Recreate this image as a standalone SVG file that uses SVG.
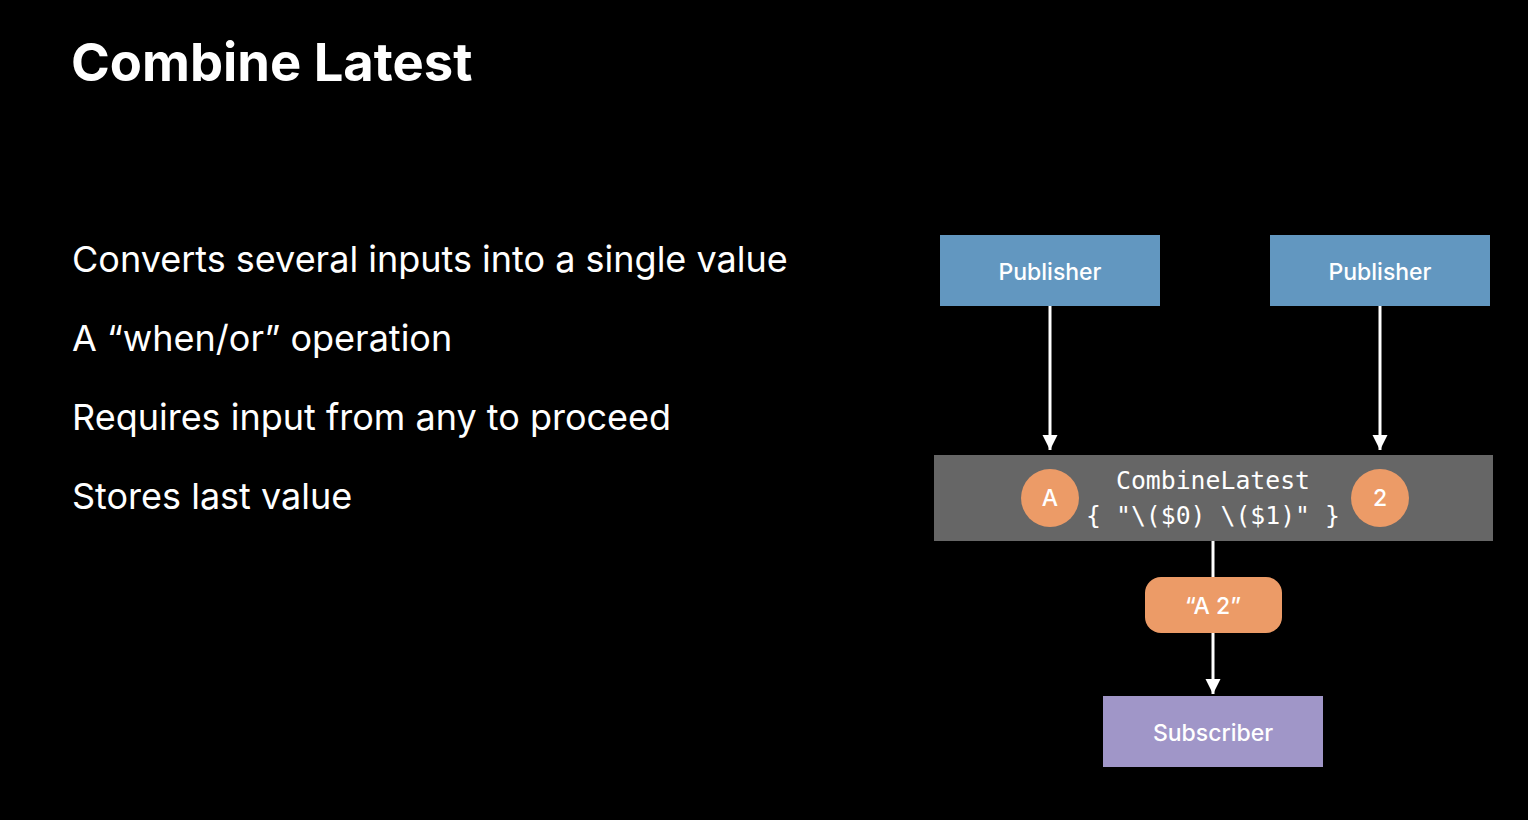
<svg xmlns="http://www.w3.org/2000/svg" width="1528" height="820" viewBox="0 0 1528 820">
<defs>
<style>
.t{font-family:Inter,"Liberation Sans",sans-serif;fill:#fff}
.lbl{font-family:Inter,"Liberation Sans",sans-serif;fill:#fff;font-size:23px;font-weight:500;text-anchor:middle}
.mono{font-family:"DejaVu Sans Mono","Liberation Mono",monospace;fill:#fff;font-size:24.8px;text-anchor:middle}
.conn{stroke:#fff;stroke-width:3;fill:none}
</style>
<marker id="ah" markerWidth="6" markerHeight="6" refX="5" refY="3" orient="auto" markerUnits="strokeWidth">
<path d="M0,0.5 L5,3 L0,5.5 z" fill="#fff"/>
</marker>
</defs>
<rect width="1528" height="820" fill="#000"/>
<text class="t" x="71" y="81" font-size="52.5" font-weight="700">Combine Latest</text>
<g class="t" font-size="36">
<text x="72" y="272">Converts several inputs into a single value</text>
<text x="72" y="351">A “when/or” operation</text>
<text x="72" y="430">Requires input from any to proceed</text>
<text x="72" y="509">Stores last value</text>
</g>
<g id="connectors">
<line class="conn" x1="1050" y1="306" x2="1050" y2="450" marker-end="url(#ah)"/>
<line class="conn" x1="1380" y1="306" x2="1380" y2="450" marker-end="url(#ah)"/>
<line class="conn" x1="1213" y1="541" x2="1213" y2="580"/>
<line class="conn" x1="1213" y1="632" x2="1213" y2="694" marker-end="url(#ah)"/>
</g>
<g id="pub1">
<rect x="940" y="235" width="220" height="71" fill="#6297c0"/>
<text class="lbl" x="1050" y="280">Publisher</text>
</g>
<g id="pub2">
<rect x="1270" y="235" width="220" height="71" fill="#6297c0"/>
<text class="lbl" x="1380" y="280">Publisher</text>
</g>
<g id="combine">
<rect x="934" y="455" width="559" height="86" fill="#666"/>
<text class="mono" x="1213" y="489">CombineLatest</text>
<text class="mono" x="1213" y="524">{ "\($0) \($1)" }</text>
</g>
<g id="valA">
<circle cx="1050" cy="498" r="29" fill="#ec9b67"/>
<text class="lbl" x="1050" y="506" font-size="22">A</text>
</g>
<g id="val2">
<circle cx="1380" cy="498" r="29" fill="#ec9b67"/>
<text class="lbl" x="1380" y="506" font-size="22">2</text>
</g>
<g id="output">
<rect x="1145" y="577" width="137" height="56" rx="16" fill="#ec9b67"/>
<text class="lbl" x="1213" y="614">“A 2”</text>
</g>
<g id="subscriber">
<rect x="1103" y="696" width="220" height="71" fill="#a096c8"/>
<text class="lbl" x="1213" y="741">Subscriber</text>
</g>
</svg>
